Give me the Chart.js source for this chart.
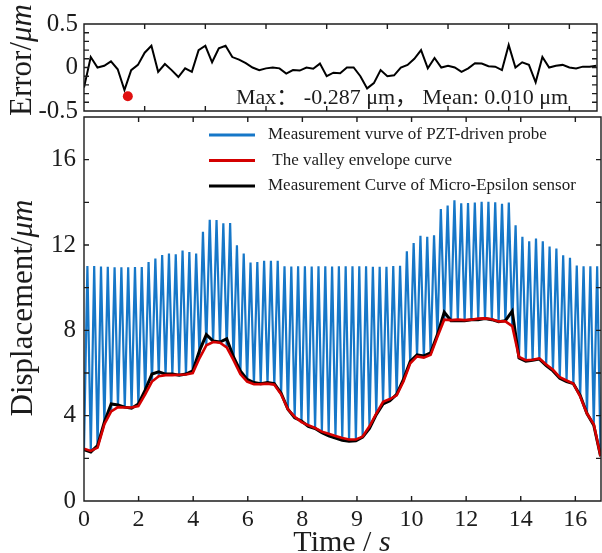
<!DOCTYPE html>
<html>
<head>
<meta charset="utf-8">
<script src="https://cdn.jsdelivr.net/npm/chart.js@4.4.1/dist/chart.umd.min.js"></script>
<style>
  html, body { margin: 0; padding: 0; background: #fff; }
  #wrap { position: relative; width: 602px; height: 553px; overflow: hidden; }
  #topBox { position: absolute; left: 0; top: 0; width: 602px; height: 135px; }
  #mainBox { position: absolute; left: 0; top: 115px; width: 602px; height: 438px; }
</style>
</head>
<body>
<div id="wrap">
  <div id="topBox"><canvas id="cErr" width="602" height="135"></canvas></div>
  <div id="mainBox"><canvas id="cDisp" width="602" height="438"></canvas></div>
</div>
<script>
// probe wave: one valley / peak every half period
const sampleStep = 0.1245;

const probePeaks = [
  11.02, 11.02, 10.99, 10.98, 10.96, 10.95, 10.95, 10.97, 10.97,
  11.2, 11.37, 11.53, 11.6, 11.57, 11.74, 11.67, 11.6,
  12.62, 13.18, 13.17, 13.02, 13.03, 11.99, 11.6,
  11.18, 11.2, 11.26, 11.26, 11.26,
  11.0, 10.99, 11.0, 11.0, 10.99, 11.0, 11.0, 10.99, 11.0, 11.0, 11.0, 11.0, 11.0, 10.98, 10.98, 10.98, 11.02, 11.03,
  11.7, 12.09, 12.43, 12.38, 12.45,
  13.69, 13.85, 14.1, 13.95, 13.97, 13.99, 14.03, 14.03, 14.0, 13.93, 13.99,
  12.92, 12.39, 12.17, 12.3, 12.18, 11.93, 11.83, 11.52, 11.4,
  11.04, 11.0, 11.0, 11.0
];

const valleyEnvelope = [
  2.45, 2.35, 2.5, 3.6, 4.2, 4.4, 4.38, 4.38, 4.45, 5.0,
  5.6, 5.85, 5.9, 5.9, 5.92, 5.93, 6.0, 6.7, 7.3, 7.45,
  7.42, 7.2, 6.6, 5.95, 5.6, 5.47, 5.48, 5.5, 5.45, 5.0,
  4.3, 3.95, 3.7, 3.55, 3.42, 3.25, 3.15, 3.05, 2.95, 2.88,
  2.88, 3.02, 3.5, 4.1, 4.65, 4.78, 4.95, 5.6, 6.45, 6.78,
  6.72, 6.85, 7.7, 8.5, 8.48, 8.5, 8.48, 8.5, 8.55, 8.56,
  8.52, 8.42, 8.42, 8.2, 6.75, 6.6, 6.62, 6.68, 6.4, 6.15,
  5.8, 5.65, 5.5, 4.9, 4.1, 3.6, 2.1
];

const sensorCurve = [
  2.4, 2.3, 2.6, 3.7, 4.55, 4.5, 4.4, 4.35, 4.55, 5.2,
  5.95, 6.05, 5.95, 5.95, 5.9, 5.95, 6.1, 7.05, 7.8, 7.5,
  7.45, 7.6, 6.75, 6.1, 5.7, 5.55, 5.5, 5.55, 5.5, 5.05,
  4.3, 3.9, 3.75, 3.5, 3.4, 3.2, 3.05, 2.95, 2.85, 2.8,
  2.82, 3.0, 3.4, 4.05, 4.55, 4.7, 5.0, 5.7, 6.55, 6.85,
  6.8, 6.95, 7.8, 8.85, 8.45, 8.45, 8.45, 8.5, 8.5, 8.55,
  8.5, 8.4, 8.45, 8.9, 6.7, 6.55, 6.6, 6.65, 6.35, 6.1,
  5.75, 5.6, 5.5, 4.95, 4.1, 3.55, 2.1
];

const errorValues = [
  -0.23, 0.12, 0.0, 0.02, 0.07, -0.02, -0.26, -0.03, 0.03, 0.17,
  0.25, -0.05, 0.04, -0.03, -0.11, -0.01, -0.05, 0.2, 0.25, 0.06,
  0.22, 0.25, 0.12, 0.09, 0.05, 0.0, -0.03, -0.01, 0.0, -0.01,
  -0.07, -0.03, -0.035, 0.0, -0.015, 0.045, -0.1, -0.06, -0.065, 0.0,
  0.0, -0.1, -0.24, -0.18, -0.03, -0.1, -0.09, 0.0, 0.03, 0.1,
  0.2, -0.01, 0.11, 0.0, 0.02, 0.0, -0.05, -0.01, 0.05, 0.045,
  0.015, 0.01, -0.03, 0.26, 0.0, 0.06, 0.03, -0.17, 0.12, 0.0,
  0.02, 0.03, 0.0, -0.01, 0.01, 0.01, 0.02
];
const maxErrIndex = [6.5];
const maxErrValue = [-0.33];
const maxError = '-0.287';
const meanError = '0.010';

const timeTickValues = [0, 2, 4, 6, 8, 10, 12, 14, 16, 18];
const timeTickLabels = ['0', '2', '4', '6', '8', '9', '10', '12', '14', '16'];
const dispTickValues = [0, 2, 4, 6, 8, 10, 12, 14, 16, 18];
const dispTickLabels = ['0', '', '4', '', '8', '', '12', '', '16', ''];
const errTickValues = [-0.5, -0.4, -0.3, -0.2, -0.1, 0, 0.1, 0.2, 0.3, 0.4, 0.5];
const errTickLabels = ['-0.5', '', '', '', '', '0', '', '', '', '', '0.5'];
const errIndexTicks = [0, 9, 18, 27, 36, 45, 54, 63, 72];

const SERIF = '"Liberation Serif", "Times New Roman", serif';
const INK = '#1c1c1c';

// build point tables
const probePts = [];
valleyEnvelope.forEach((v, j) => {
  probePts.push({ x: 2 * j * sampleStep, y: v });
  if (j < probePeaks.length) probePts.push({ x: (2 * j + 1) * sampleStep, y: probePeaks[j] });
});
const envelopePts = valleyEnvelope.map((v, j) => ({ x: 2 * j * sampleStep, y: v }));
const sensorPts = sensorCurve.map((v, j) => ({ x: 2 * j * sampleStep, y: v }));
const errorPts = errorValues.map((v, j) => ({ x: j, y: v }));
const maxPts = maxErrIndex.map((x, i) => ({ x: x, y: maxErrValue[i] }));

function fixedAxis(size, horizontal) {
  return function (scale) {
    if (horizontal) scale.height = size; else scale.width = size;
    scale.paddingTop = 0; scale.paddingBottom = 0;
    scale.paddingLeft = 0; scale.paddingRight = 0;
  };
}

// box round the plot with inward ticks on all four sides
const frameTicks = {
  id: 'frameTicks',
  afterDatasetsDraw(chart, args, opts) {
    const { ctx, chartArea: a, scales } = chart;
    const len = 5;
    ctx.save();
    ctx.strokeStyle = INK;
    ctx.lineWidth = 1.4;
    ctx.beginPath();
    ctx.rect(a.left, a.top, a.right - a.left, a.bottom - a.top);
    (opts.xTicks || []).forEach(v => {
      const px = scales.x.getPixelForValue(v);
      ctx.moveTo(px, a.bottom); ctx.lineTo(px, a.bottom - len);
      ctx.moveTo(px, a.top); ctx.lineTo(px, a.top + len);
    });
    (opts.yTicks || []).forEach(v => {
      const py = scales.y.getPixelForValue(v);
      ctx.moveTo(a.left, py); ctx.lineTo(a.left + len, py);
      ctx.moveTo(a.right, py); ctx.lineTo(a.right - len, py);
    });
    ctx.stroke();
    ctx.restore();
  }
};

// axis titles with italic unit parts
function drawParts(ctx, parts, size) {
  let w = 0;
  parts.forEach(p => {
    ctx.font = (p[1] ? 'italic ' : '') + size + 'px ' + SERIF;
    w += ctx.measureText(p[0]).width;
  });
  let x = -w / 2;
  parts.forEach(p => {
    ctx.font = (p[1] ? 'italic ' : '') + size + 'px ' + SERIF;
    ctx.fillText(p[0], x, 0);
    x += ctx.measureText(p[0]).width;
  });
}
const axisTitles = {
  id: 'axisTitles',
  afterDraw(chart, args, opts) {
    const { ctx } = chart;
    (opts.items || []).forEach(t => {
      ctx.save();
      ctx.fillStyle = INK;
      ctx.textBaseline = 'middle';
      ctx.textAlign = 'left';
      ctx.translate(t.x, t.y);
      if (t.rotate) ctx.rotate(-Math.PI / 2);
      drawParts(ctx, t.parts, t.size);
      ctx.restore();
    });
  }
};

const innerLegend = {
  id: 'innerLegend',
  afterDraw(chart, args, opts) {
    const { ctx } = chart;
    ctx.save();
    ctx.font = '17px ' + SERIF;
    ctx.textBaseline = 'middle';
    ctx.fillStyle = INK;
    opts.order.forEach((di, row) => {
      const ds = chart.data.datasets[di];
      const y = opts.y + row * opts.rowGap;
      ctx.strokeStyle = ds.borderColor;
      ctx.lineWidth = 3;
      ctx.beginPath();
      ctx.moveTo(opts.x, y); ctx.lineTo(opts.x + 46, y);
      ctx.stroke();
      ctx.fillText(ds.label, opts.x + 59, y);
    });
    ctx.restore();
  }
};

const statText = {
  id: 'statText',
  afterDraw(chart, args, opts) {
    const { ctx } = chart;
    ctx.save();
    ctx.fillStyle = INK;
    ctx.font = '22px ' + SERIF + ', "Noto Sans CJK SC"';
    ctx.textBaseline = 'middle';
    ctx.fillText(opts.text, opts.x, opts.y);
    ctx.restore();
  }
};

// error panel
new Chart(document.getElementById('cErr'), {
  type: 'line',
  data: {
    datasets: [
      { label: 'max', data: maxPts, showLine: false, pointRadius: 5, pointBackgroundColor: '#e01010', pointBorderWidth: 0, borderColor: '#e01010' },
      { label: 'error', data: errorPts, borderColor: '#000', borderWidth: 2, pointRadius: 0, tension: 0 }
    ]
  },
  options: {
    responsive: false,
    animation: false,
    events: [],
    layout: { padding: { top: 24, bottom: 24, left: 0, right: 1 } },
    plugins: {
      legend: { display: false },
      tooltip: { enabled: false },
      frameTicks: { xTicks: errIndexTicks, yTicks: errTickValues },
      axisTitles: { items: [{ x: 23, y: 60, rotate: true, size: 31, parts: [['Error/', false], ['\u03bcm', true]] }] },
      statText: { text: 'Max\uff1a -0.287 \u03bcm\uff0c Mean: ' + meanError + ' \u03bcm', x: 236, y: 98 }
    },
    scales: {
      x: {
        type: 'linear', min: 0, max: 76.1,
        grid: { display: false }, border: { display: false },
        ticks: { display: false },
        afterFit: fixedAxis(0, true)
      },
      y: {
        type: 'linear', min: -0.5, max: 0.5,
        grid: { display: false, drawTicks: false }, border: { display: false },
        afterBuildTicks: s => { s.ticks = errTickValues.map(v => ({ value: v })); },
        ticks: {
          autoSkip: false, padding: 6, color: INK,
          font: { family: SERIF, size: 25 },
          callback: (v, i) => errTickLabels[i]
        },
        afterFit: fixedAxis(84, false)
      }
    }
  },
  plugins: [frameTicks, axisTitles, statText]
});

// displacement panel
new Chart(document.getElementById('cDisp'), {
  type: 'line',
  data: {
    datasets: [
      { label: 'Measurement vurve of PZT-driven probe', data: probePts, borderColor: '#1677c8', borderWidth: 2.2, pointRadius: 0, tension: 0, order: 3 },
      { label: ' The valley envelope curve', data: envelopePts, borderColor: '#d40000', borderWidth: 2.6, pointRadius: 0, tension: 0, order: 1 },
      { label: 'Measurement Curve of Micro-Epsilon sensor', data: sensorPts, borderColor: '#000000', borderWidth: 3, pointRadius: 0, tension: 0, order: 2 }
    ]
  },
  options: {
    responsive: false,
    animation: false,
    events: [],
    layout: { padding: { top: 2, bottom: 0, left: 0, right: 1 } },
    plugins: {
      legend: { display: false },
      tooltip: { enabled: false },
      frameTicks: { xTicks: timeTickValues, yTicks: dispTickValues },
      innerLegend: { x: 209, y: 20, rowGap: 25.5, order: [0, 1, 2] },
      axisTitles: {
        items: [
          { x: 24, y: 193, rotate: true, size: 31, parts: [['Displacement/', false], ['\u03bcm', true]] },
          { x: 342, y: 428, rotate: false, size: 30, parts: [['Time / ', false], ['s', true]] }
        ]
      }
    },
    scales: {
      x: {
        type: 'linear', min: 0, max: 18.94,
        grid: { display: false, drawTicks: false }, border: { display: false },
        afterBuildTicks: s => { s.ticks = timeTickValues.map(v => ({ value: v })); },
        ticks: {
          autoSkip: false, padding: 4, color: INK, maxRotation: 0,
          font: { family: SERIF, size: 24 },
          callback: (v, i) => timeTickLabels[i]
        },
        afterFit: fixedAxis(52, true)
      },
      y: {
        type: 'linear', min: 0, max: 18,
        grid: { display: false, drawTicks: false }, border: { display: false },
        afterBuildTicks: s => { s.ticks = dispTickValues.map(v => ({ value: v })); },
        ticks: {
          autoSkip: false, padding: 8, color: INK,
          font: { family: SERIF, size: 25 },
          callback: (v, i) => dispTickLabels[i]
        },
        afterFit: fixedAxis(84, false)
      }
    }
  },
  plugins: [frameTicks, axisTitles, innerLegend]
});
</script>
</body>
</html>
